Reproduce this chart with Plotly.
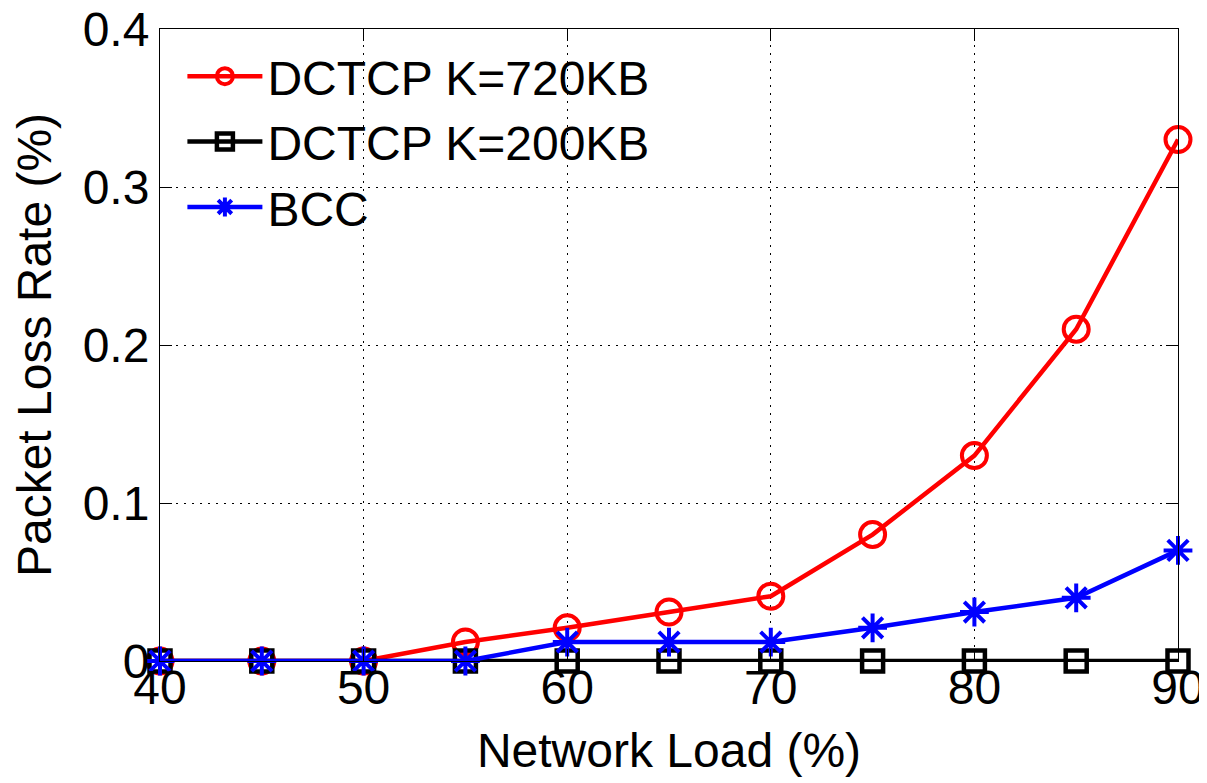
import plotly.graph_objects as go

load = [40, 45, 50, 55, 60, 65, 70, 75, 80, 85, 90]
dctcp_720 = [0, 0, 0, 0.012, 0.021, 0.031, 0.041, 0.08, 0.13, 0.21, 0.33]
dctcp_200 = [0, 0, 0, 0, 0, 0, 0, 0, 0, 0, 0]
bcc = [0, 0, 0, 0, 0.012, 0.012, 0.012, 0.021, 0.031, 0.04, 0.07]

y_ticks = [0, 0.1, 0.2, 0.3, 0.4]
y_ticktext = ["0", "0.1", "0.2", "0.3", "0.4"]
x_ticks = [40, 50, 60, 70, 80, 90]

FONT = "Liberation Sans, Arial, Helvetica, sans-serif"

fig = go.Figure()
fig.add_trace(go.Scatter(
    x=load, y=dctcp_720, name="DCTCP K=720KB", mode="lines+markers",
    line=dict(color="#ff0000", width=4.5),
    marker=dict(symbol="circle-open", size=25, color="#ff0000", line=dict(width=4, color="#ff0000")),
    cliponaxis=False,
))
fig.add_trace(go.Scatter(
    x=load, y=dctcp_200, name="DCTCP K=200KB", mode="lines+markers",
    line=dict(color="#000000", width=4.5),
    marker=dict(symbol="square-open", size=21, color="#000000", line=dict(width=4.5, color="#000000")),
    cliponaxis=False,
))
fig.add_trace(go.Scatter(
    x=load, y=bcc, name="BCC", mode="lines+markers",
    line=dict(color="#0000ff", width=4.5),
    marker=dict(symbol="asterisk-open", size=24, color="#0000ff", line=dict(width=4, color="#0000ff")),
    cliponaxis=False,
))

fig.update_layout(
    width=1199, height=775,
    margin=dict(l=152, r=29, t=21, b=122, autoexpand=False),
    paper_bgcolor="white", plot_bgcolor="white",
    font=dict(family=FONT, size=48, color="black"),
    showlegend=True,
    legend=dict(
        x=0.022, y=0.985, xanchor="left", yanchor="top",
        bgcolor="rgba(0,0,0,0)", borderwidth=0,
        font=dict(size=48, family=FONT, color="black"),
        itemwidth=75, tracegroupgap=0,
    ),
)
fig.update_xaxes(
    range=[40, 90], tickvals=x_ticks, ticks="inside", ticklen=12, tickwidth=1,
    tickcolor="black", showline=True, linecolor="black", linewidth=1, mirror="ticks",
    showgrid=True, gridcolor="black", griddash="1.5px,6.5px", gridwidth=1, zeroline=False,
    automargin=False, ticklabelstandoff=-16, ticklabeloverflow="allow",
    title=dict(text="Network Load (%)", standoff=20, font=dict(size=48)),
    tickfont=dict(size=48),
)
fig.update_yaxes(
    range=[0, 0.4], tickvals=y_ticks, ticktext=y_ticktext, ticks="inside", ticklen=12,
    tickwidth=1, tickcolor="black", showline=True, linecolor="black", linewidth=1,
    mirror="ticks", showgrid=True, gridcolor="black", griddash="1.5px,6.5px", gridwidth=1,
    zeroline=False, automargin=False, ticklabeloverflow="allow",
    title=dict(text="Packet Loss Rate (%)", standoff=17, font=dict(size=48)),
    tickfont=dict(size=48),
)

fig.write_html("out.html")
